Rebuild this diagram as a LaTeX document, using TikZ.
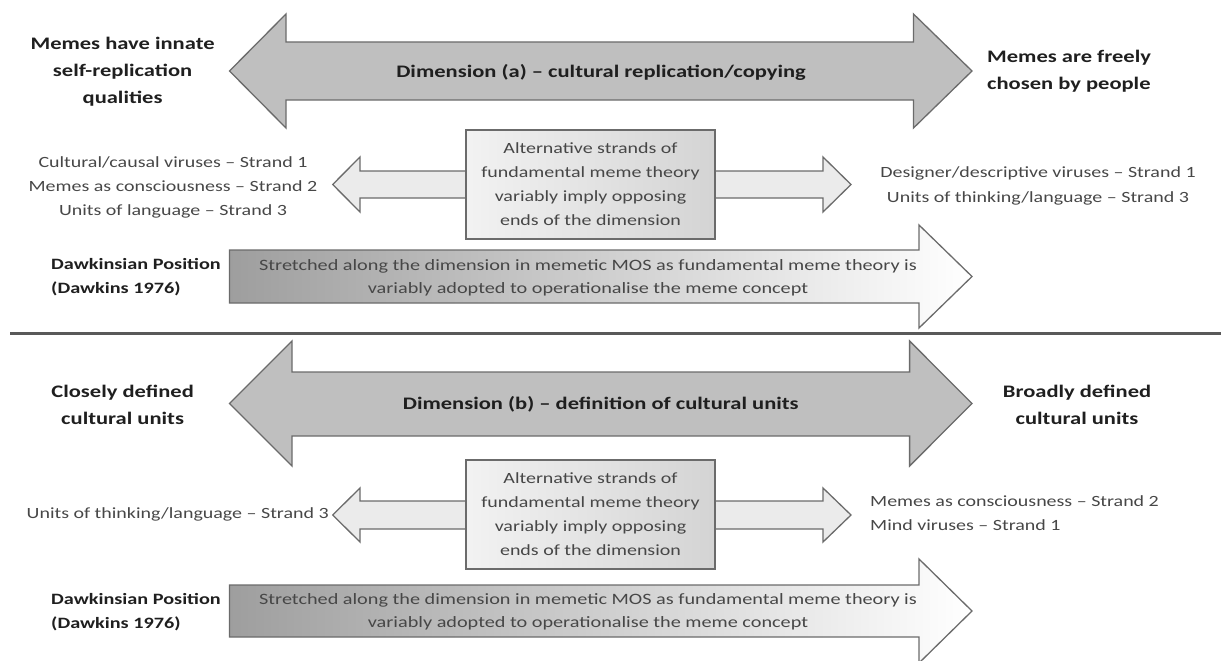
\documentclass[tikz,border=0pt]{standalone}
\usepackage{fontspec}
\setmainfont{Carlito}[FakeStretch=1.28]
\begin{document}
\begin{tikzpicture}[x=1pt,y=-1pt,
  bigarrow/.style={draw=black!58,line width=1.3pt,fill=black!25,line join=miter},
  midarrow/.style={draw=black!58,line width=1.3pt,fill=black!8,line join=miter},
  midbox/.style={draw=black!58,line width=1.3pt,left color=black!5,right color=black!17},
  dawkarrow/.style={draw=black!58,line width=1.3pt,left color=black!38,right color=white,line join=miter},
  boldlab/.style={inner sep=0pt,align=center,text=black!88,font=\fontsize{17.6}{27}\selectfont\bfseries},
  dimtxt/.style={inner sep=0pt,text=black!88,font=\fontsize{17.6}{22}\selectfont\bfseries},
  regtxt/.style={inner sep=0pt,text=black!72,font=\fontsize{15.6}{24}\selectfont},
  dawklab/.style={inner sep=0pt,align=left,text=black!88,font=\fontsize{15.8}{24}\selectfont\bfseries},
  dawktxt/.style={inner sep=0pt,align=center,text=black!72,font=\fontsize{15.8}{22.5}\selectfont}]
\useasboundingbox (0,0) rectangle (1221,661);
% ---------- top section ----------
\path[bigarrow] (229.5,71) -- (286,14) -- (286,42) -- (913.5,42) -- (913.5,14) -- (972,71)
  -- (913.5,128) -- (913.5,100) -- (286,100) -- (286,128) -- cycle;
\node[dimtxt] (dimA) at (601,72) {Dimension (a) -- cultural replication/copying};
\node[boldlab] (labA1) at (122.6,72) {Memes have innate\\self-replication\\qualities};
\node[boldlab,anchor=west,align=left] (labA2) at (987,71.5) {Memes are freely\\chosen by people};
\path[midarrow] (332.7,184.5) -- (360,157) -- (360,171) -- (823,171) -- (823,157) -- (851,184.5)
  -- (823,212) -- (823,198) -- (360,198) -- (360,212) -- cycle;
\node[midbox,regtxt,align=center,minimum width=249pt,minimum height=109pt] (boxA) at (590.5,184.5)
  {Alternative strands of\\fundamental meme theory\\variably imply opposing\\ends of the dimension};
\node[regtxt,align=center] (strA1) at (173,187)
  {Cultural/causal viruses -- Strand 1\\Memes as consciousness -- Strand 2\\Units of language -- Strand 3};
\node[regtxt,align=center,font=\fontsize{15.6}{25.5}\selectfont] (strA2) at (1038,186)
  {Designer/descriptive viruses -- Strand 1\\Units of thinking/language -- Strand 3};
\path[dawkarrow] (229.5,250) -- (919,250) -- (919,225) -- (972,276.5) -- (919,328) -- (919,303)
  -- (229.5,303) -- cycle;
\node[dawktxt] (dawkA) at (588,278)
  {Stretched along the dimension in memetic MOS as fundamental meme theory is\\variably adopted to operationalise the meme concept};
\node[dawklab,anchor=west] (dlabA) at (51,277) {Dawkinsian Position\\(Dawkins 1976)};
% ---------- separator ----------
\coordinate (sepL) at (10,333.5);
\coordinate (sepR) at (1221,333.5);
\draw[black!65,line width=2.6pt] (sepL) -- (sepR);
% ---------- bottom section ----------
\path[bigarrow] (229.5,403.5) -- (292,341) -- (292,372) -- (909.6,372) -- (909.6,341) -- (972,403.5)
  -- (909.6,466) -- (909.6,436) -- (292,436) -- (292,466) -- cycle;
\node[dimtxt] (dimB) at (600.7,404) {Dimension (b) -- definition of cultural units};
\node[boldlab] (labB1) at (122.6,404.5) {Closely defined\\cultural units};
\node[boldlab] (labB2) at (1077,404.5) {Broadly defined\\cultural units};
\path[midarrow] (332.7,515) -- (360,488) -- (360,501) -- (823,501) -- (823,488) -- (851,515)
  -- (823,542) -- (823,529) -- (360,529) -- (360,542) -- cycle;
\node[midbox,regtxt,align=center,minimum width=249pt,minimum height=109pt] (boxB) at (590.5,514.5)
  {Alternative strands of\\fundamental meme theory\\variably imply opposing\\ends of the dimension};
\node[regtxt,anchor=east] (strB1) at (329,514) {Units of thinking/language -- Strand 3};
\node[regtxt,anchor=west,align=left] (strB2) at (870,513)
  {Memes as consciousness -- Strand 2\\Mind viruses -- Strand 1};
\path[dawkarrow] (229.5,585) -- (919,585) -- (919,559) -- (972,611) -- (919,663) -- (919,637)
  -- (229.5,637) -- cycle;
\node[dawktxt] (dawkB) at (588,612)
  {Stretched along the dimension in memetic MOS as fundamental meme theory is\\variably adopted to operationalise the meme concept};
\node[dawklab,anchor=west] (dlabB) at (51,612) {Dawkinsian Position\\(Dawkins 1976)};
\end{tikzpicture}
\end{document}
